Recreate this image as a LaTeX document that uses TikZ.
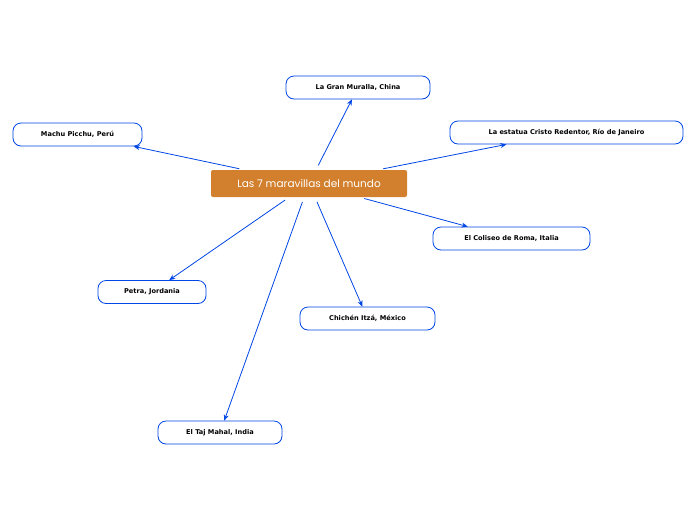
\documentclass[tikz,border=0pt]{standalone}
\usepackage{fontspec}
\setmainfont{DejaVu Sans}
\newfontfamily\titlefont{Poppins}
\usetikzlibrary{arrows.meta}

\begin{document}
\begin{tikzpicture}[x=1pt,y=-1pt,
    topic/.style={draw=blue!70!cyan!90!black,line width=0.8pt,fill=white,rounded corners=8pt,
      font=\fontsize{6.6}{8}\selectfont\bfseries,minimum height=23pt,inner xsep=8pt},
    central/.style={fill=brown!70!orange,rounded corners=2pt,text=white,
      font=\titlefont\fontsize{10.5}{12}\selectfont,minimum height=27pt,minimum width=196pt},
    link/.style={draw=blue!70!cyan!90!black,line width=0.8pt,-{Stealth[length=6pt,width=5pt]},shorten <=5pt}]
  % Boundary
  \path[use as bounding box] (0,0) rectangle (696,520);
  % Centre
  \node[central] (c) at (309,183.5) {Las 7 maravillas del mundo};
  % Topics
  \node[topic,minimum width=144pt] (muralla) at (358,87.5) {La Gran Muralla, China};
  \node[topic,minimum width=129pt] (machu) at (77.5,134.5) {Machu Picchu, Perú};
  \node[topic,minimum width=233pt] (cristo) at (566.5,132.5) {La estatua Cristo Redentor, Río de Janeiro};
  \node[topic,minimum width=157pt] (coliseo) at (511.5,238.5) {El Coliseo de Roma, Italia};
  \node[topic,minimum width=108pt] (petra) at (152,292) {Petra, Jordania};
  \node[topic,minimum width=135pt] (chichen) at (367.5,318.5) {Chichén Itzá, México};
  \node[topic,minimum width=124pt] (taj) at (220,432.5) {El Taj Mahal, India};
  % Links
  \foreach \t in {muralla,machu,cristo,coliseo,petra,chichen,taj}
    \draw[link] (c) -- (\t);
\end{tikzpicture}
\end{document}
